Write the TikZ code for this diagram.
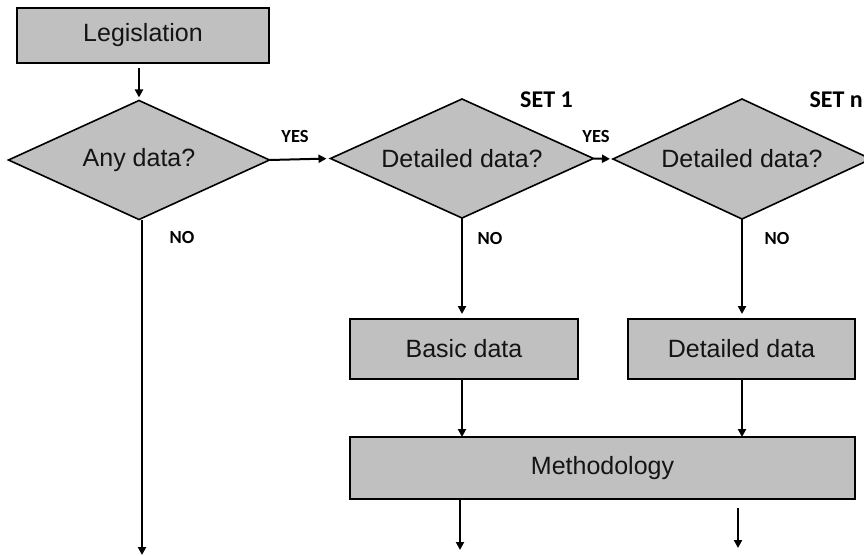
\documentclass[tikz,border=0pt]{standalone}
\usepackage{fontspec}
\setmainfont{Liberation Sans}
\newfontfamily\labfont{Carlito}
\usetikzlibrary{shapes.geometric,arrows.meta}
\definecolor{boxgray}{RGB}{192,192,192}
\definecolor{inktext}{RGB}{20,20,20}
\begin{document}
\begin{tikzpicture}[x=1pt,y=-1pt,
  box/.style={draw=black,line width=1.6pt,fill=boxgray,inner sep=0pt,outer sep=0pt,
    font=\fontsize{25}{30}\selectfont,text=inktext},
  dia/.style={diamond,draw=black,line width=1.6pt,fill=boxgray,inner sep=0pt,outer sep=0pt,
    aspect=2.2,font=\fontsize{25}{30}\selectfont,text=inktext},
  lbl/.style={font=\labfont\bfseries\fontsize{18.5}{22}\selectfont,inner sep=0pt},
  setlbl/.style={font=\labfont\bfseries\fontsize{24}{28}\selectfont,inner sep=0pt},
  arr/.style={line width=2pt,-{Triangle[length=8pt,width=8pt]}},
]
\useasboundingbox (0,0) rectangle (864,556);

% boxes and decisions
\node[box,minimum width=252pt,minimum height=55pt] (leg) at (143,35.5) {Legislation};
\node[dia,minimum width=261pt,minimum height=119pt] (any) at (139,160) {Any data?};
\node[dia,minimum width=263pt,minimum height=119pt] (d1) at (462,158.5) {Detailed data?};
\node[dia,minimum width=258pt,minimum height=120pt] (d2) at (742,159) {Detailed data?};
\node[box,minimum width=228pt,minimum height=60pt] (basic) at (464,349) {Basic data};
\node[box,minimum width=227pt,minimum height=60pt] (det) at (741.5,349) {Detailed data};
\node[box,minimum width=505pt,minimum height=62pt] (meth) at (602.5,468) {Methodology};

% labels
\node[lbl] (yes1) at (295,136) {YES};
\node[lbl] (yes2) at (596,136) {YES};
\node[lbl] (no1) at (182,237) {NO};
\node[lbl] (no2) at (490,238) {NO};
\node[lbl] (no3) at (777,238) {NO};
\node[setlbl] (set1) at (546.5,100) {SET 1};
\node[setlbl,anchor=east] (setn) at (863,100) {SET n};

% free ends
\coordinate (endA) at (142,555);
\coordinate (endB) at (460,550);
\coordinate (endC) at (738,548);

% connectors
\draw[arr,shorten <=5pt,shorten >=3pt] (leg.south -| any.north) -- (any.north);
\draw[arr,shorten >=4pt] (any.east) -- (d1.west);
\draw[arr,shorten >=3pt] (d1.east) -- (d2.west);
\draw[arr] (any.south -| endA) -- (endA);
\draw[arr,shorten >=5pt] (d1.south) -- (d1.south |- basic.north);
\draw[arr,shorten >=5pt] (d2.south) -- (d2.south |- det.north);
\draw[arr] (basic.south -| d1.south) -- (d1.south |- meth.north);
\draw[arr] (det.south -| d2.south) -- (d2.south |- meth.north);
\draw[arr] (meth.south -| endB) -- (endB);
\draw[arr,shorten <=9pt] (meth.south -| endC) -- (endC);
\end{tikzpicture}
\end{document}
